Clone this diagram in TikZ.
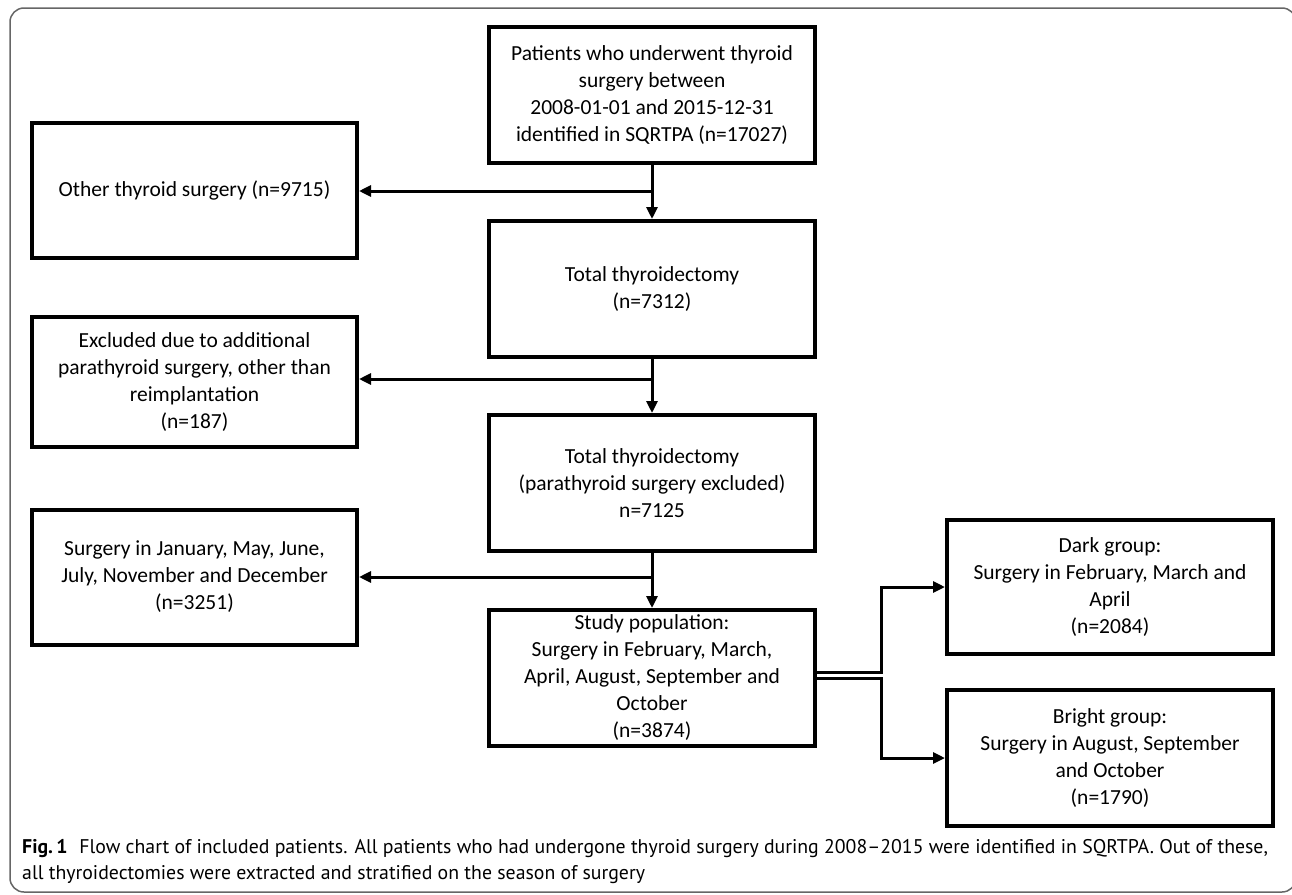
\documentclass[tikz,border=0pt]{standalone}
\usepackage{fontspec}
\setmainfont{Carlito}
\newfontfamily\capfont{PT Sans}
\usetikzlibrary{arrows.meta}

\begin{document}
\begin{tikzpicture}[x=1pt, y=-1pt,
	flowbox/.style={draw=black, line width=4pt, minimum width=326pt, minimum height=136pt, inner sep=0pt, align=center, font=\fontsize{21.5}{27}\selectfont},
	flowarrow/.style={black, line width=3pt, -{Triangle[length=12pt, width=11pt]}},
	captext/.style={anchor=base west, inner sep=0pt, font=\capfont\fontsize{19.8}{24}\selectfont}]
	\useasboundingbox (0,0) rectangle (1292,894);
	\draw[gray!80!black, line width=1.5pt, rounded corners=14pt] (10,8) rectangle (1296,892);

	% main column
	\node[flowbox] (patients) at (652,95) {Patients who underwent thyroid\\surgery between\\2008-01-01 and 2015-12-31\\identified in SQRTPA (n=17027)};
	\node[flowbox] (total) at (652,289) {Total thyroidectomy\\(n=7312)};
	\node[flowbox] (totalex) at (652,483) {Total thyroidectomy\\(parathyroid surgery excluded)\\n=7125};
	\node[flowbox] (study) at (652,678) {Study population:\\Surgery in February, March,\\April, August, September and\\October\\(n=3874)};

	% excluded on the left
	\node[flowbox, minimum width=325pt, minimum height=135pt] (other) at (194.5,190.5) {Other thyroid surgery (n=9715)};
	\node[flowbox, minimum width=325pt, minimum height=130pt] (parathyroid) at (194.5,382) {Excluded due to additional\\parathyroid surgery, other than\\reimplantation\\(n=187)};
	\node[flowbox, minimum width=325pt, minimum height=135pt] (months) at (194.5,577) {Surgery in January, May, June,\\July, November and December\\(n=3251)};

	% groups on the right
	\node[flowbox, minimum height=134pt] (dark) at (1110,587) {Dark group:\\Surgery in February, March and\\April\\(n=2084)};
	\node[flowbox] (bright) at (1110,758) {Bright group:\\Surgery in August, September\\and October\\(n=1790)};

	\coordinate (j1) at (652,191);
	\coordinate (j2) at (652,379);
	\coordinate (j3) at (652,577);
	\draw[flowarrow] (patients.south) -- (total.north);
	\draw[flowarrow] (j1) -- (j1 -| other.east);
	\draw[flowarrow] (total.south) -- (totalex.north);
	\draw[flowarrow] (j2) -- (j2 -| parathyroid.east);
	\draw[flowarrow] (totalex.south) -- (study.north);
	\draw[flowarrow] (j3) -- (months.east);

	% split into two groups
	\coordinate (s1) at (study.east |- 0,672);
	\coordinate (s2) at (study.east |- 0,678);
	\draw[flowarrow] (s1) -- (881,672) |- (dark.west);
	\draw[flowarrow] (s2) -- (881,678) |- (bright.west);

	\node[captext] (cap1) at (22,853) {\textbf{Fig.\,1}\hspace{0.6em}Flow chart of included patients. All patients who had undergone thyroid surgery during 2008–2015 were identified in SQRTPA. Out of these,};
	\node[captext] (cap2) at (22,879) {all thyroidectomies were extracted and stratified on the season of surgery};
\end{tikzpicture}
\end{document}
